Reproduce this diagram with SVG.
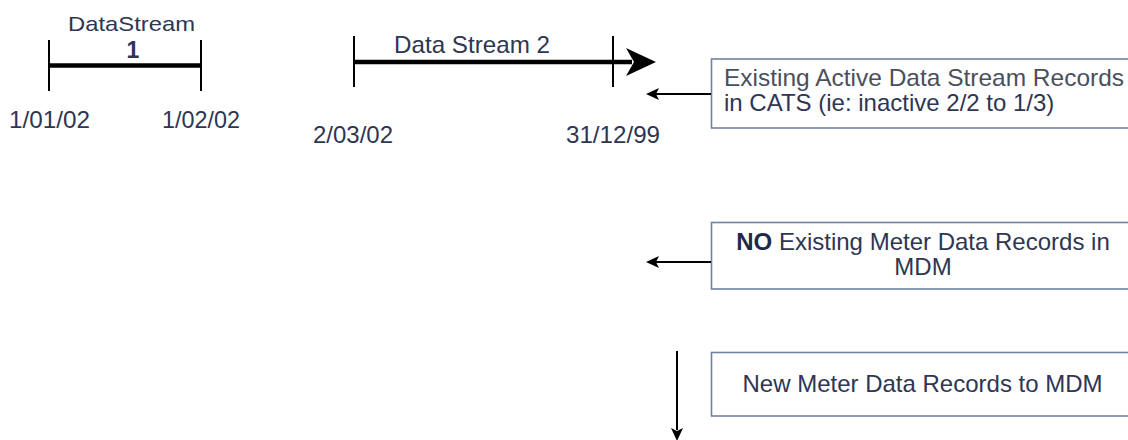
<svg xmlns="http://www.w3.org/2000/svg" width="1128" height="440" viewBox="0 0 1128 440">
  <style>
    text { font-family: "Liberation Sans", Arial, sans-serif; font-size: 24px; fill: #2e3652; }
    .small { font-size: 21px; }
    .box { fill: #ffffff; stroke: #6f82a6; stroke-width: 1.6; }
    .tick { stroke: #000; stroke-width: 2; }
    .bar { stroke: #000; stroke-width: 4.5; }
    .conn { stroke: #000; stroke-width: 2; fill: none; }
    .head { fill: #000; }
    .mid { text-anchor: middle; }
  </style>
  <rect width="1128" height="440" fill="#ffffff"/>

  <g id="datastream1">
    <text class="small" x="68" y="31" textLength="127" lengthAdjust="spacingAndGlyphs">DataStream</text>
    <text class="mid" x="133" y="58" font-weight="bold" style="font-size:23px">1</text>
    <line class="tick" x1="49" y1="40" x2="49" y2="91"/>
    <line class="tick" x1="201" y1="40" x2="201" y2="91"/>
    <line class="bar" x1="49" y1="65.5" x2="201" y2="65.5"/>
    <text x="9" y="128" textLength="81" lengthAdjust="spacingAndGlyphs">1/01/02</text>
    <text x="162" y="128" textLength="78" lengthAdjust="spacingAndGlyphs">1/02/02</text>
  </g>

  <g id="datastream2">
    <text x="394" y="53" textLength="156" lengthAdjust="spacingAndGlyphs">Data Stream 2</text>
    <line class="tick" x1="354" y1="36" x2="354" y2="87"/>
    <line class="tick" x1="613" y1="36" x2="613" y2="87"/>
    <line class="bar" x1="354" y1="62" x2="632" y2="62"/>
    <path class="head" d="M656,62 L626,48 L634,62 L626,76 Z"/>
    <text x="313" y="143" textLength="80" lengthAdjust="spacingAndGlyphs">2/03/02</text>
    <text x="566" y="143" textLength="94" lengthAdjust="spacingAndGlyphs">31/12/99</text>
  </g>

  <g id="box-existing-active">
    <rect class="box" x="711.5" y="59" width="430" height="69"/>
    <text x="724" y="86" textLength="400" lengthAdjust="spacingAndGlyphs" style="fill:#4a4f5e">Existing Active Data Stream Records</text>
    <text x="724" y="111">in CATS (ie: inactive 2/2 to 1/3)</text>
  </g>

  <g id="box-no-existing">
    <rect class="box" x="711.5" y="222.5" width="430" height="66.5"/>
    <text x="923" y="250" class="mid"><tspan font-weight="bold" style="fill:#1f2a4a">NO</tspan> Existing Meter Data Records in</text>
    <text x="923" y="275" class="mid">MDM</text>
  </g>

  <g id="box-new-meter">
    <rect class="box" x="711.5" y="352.5" width="430" height="63.5"/>
    <text x="922.5" y="392" class="mid">New Meter Data Records to MDM</text>
  </g>

  <g id="connectors">
    <line class="conn" x1="711" y1="94" x2="656" y2="94"/>
    <path class="head" d="M646,94 L659,88 L656,94 L659,100 Z"/>
    <line class="conn" x1="711" y1="262" x2="656" y2="262"/>
    <path class="head" d="M646,262 L659,256 L656,262 L659,268 Z"/>
    <line class="conn" x1="677" y1="351" x2="677" y2="430"/>
    <path class="head" d="M677,441 L671,428 L677,431 L683,428 Z"/>
  </g>
</svg>
